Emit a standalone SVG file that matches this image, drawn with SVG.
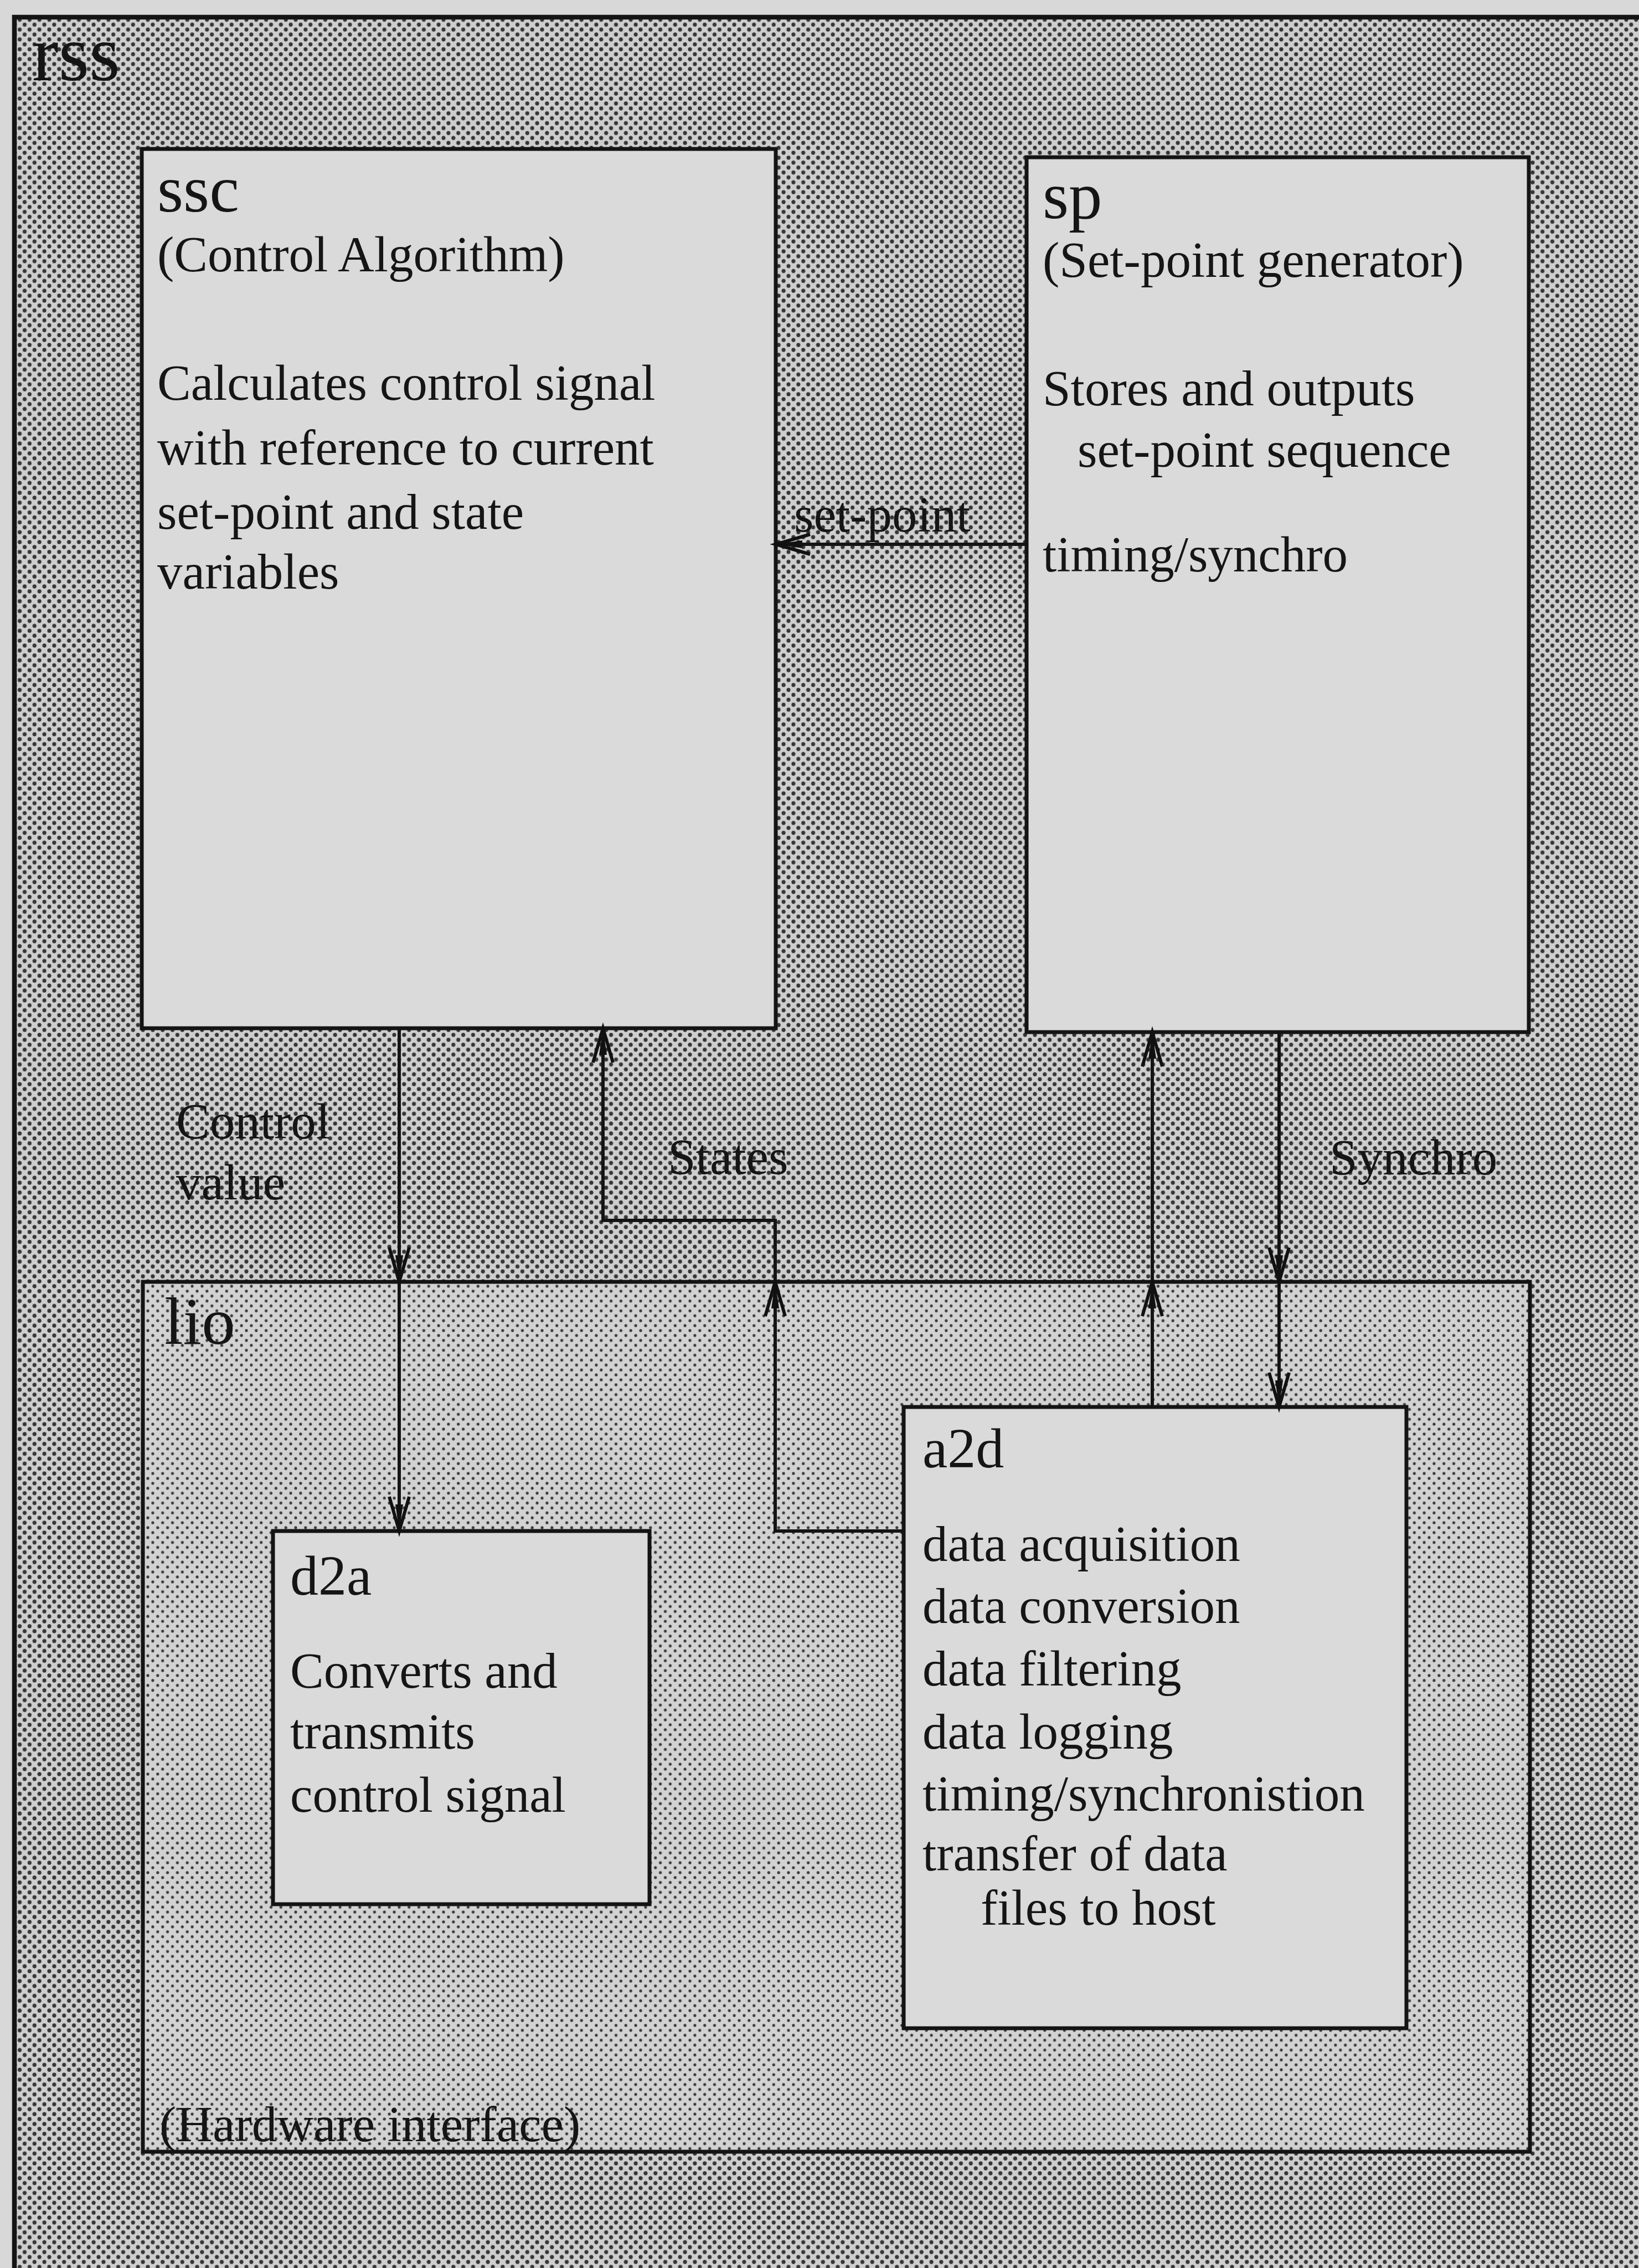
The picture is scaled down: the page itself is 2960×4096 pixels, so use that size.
<svg xmlns="http://www.w3.org/2000/svg" width="2960" height="4096" viewBox="0 0 2960 4096">
  <defs>
    <!-- halftone screens: dark for the rss system, lighter for the lio sub-system -->
    <pattern id="screenDark" width="17.8" height="17.8" patternUnits="userSpaceOnUse">
      <rect width="17.8" height="17.8" fill="#cecece"/>
      <circle cx="0" cy="0" r="3.6" fill="#353535"/>
      <circle cx="17.8" cy="0" r="3.6" fill="#353535"/>
      <circle cx="0" cy="17.8" r="3.6" fill="#353535"/>
      <circle cx="17.8" cy="17.8" r="3.6" fill="#353535"/>
      <circle cx="8.9" cy="8.9" r="3.6" fill="#353535"/>
    </pattern>
    <pattern id="screenLight" width="17.8" height="17.8" patternUnits="userSpaceOnUse">
      <rect width="17.8" height="17.8" fill="#d2d2d2"/>
      <circle cx="0" cy="0" r="2.6" fill="#3a3a3a"/>
      <circle cx="17.8" cy="0" r="2.6" fill="#3a3a3a"/>
      <circle cx="0" cy="17.8" r="2.6" fill="#3a3a3a"/>
      <circle cx="17.8" cy="17.8" r="2.6" fill="#3a3a3a"/>
      <circle cx="8.9" cy="8.9" r="2.6" fill="#3a3a3a"/>
    </pattern>
    <!-- arrowhead pointing up, tip at the origin -->
    <g id="head">
      <path d="M0 0 L-7 48 L7 48 Z" fill="#111"/>
      <path d="M-18 62 L0 0 L18 62" fill="none" stroke="#111" stroke-width="6" stroke-linejoin="miter"/>
    </g>
  </defs>
  <style>
    text { font-family: "Liberation Serif", "Times New Roman", serif; fill: #151515; }
    .title { font-size: 121px; }
    .sys { font-size: 143px; }
    .sub { font-size: 102px; }
    .body { font-size: 91px; }
    .box { fill: #dadada; stroke: #141414; stroke-width: 7; }
    .wire { fill: none; stroke: #141414; stroke-width: 6; }
  </style>

  <rect width="2960" height="4096" fill="#d8d8d8"/>

  <g id="rss">
    <rect x="26" y="31" width="3000" height="4120" fill="url(#screenDark)" stroke="#141414" stroke-width="8.5"/>
    <text class="sys" x="58" y="145">rss</text>
  </g>

  <g id="lio">
    <rect x="258" y="2315" width="2505" height="1571" fill="url(#screenLight)" stroke="#141414" stroke-width="7"/>
    <text class="title" x="297" y="2427">lio</text>
    <text class="body" x="288" y="3867">(Hardware interface)</text>
  </g>

  <g id="ssc">
    <rect class="box" x="256" y="269" width="1145" height="1588"/>
    <text class="title" x="284" y="382">ssc</text>
    <text class="body" x="284" y="490">(Control Algorithm)</text>
    <text class="body" x="284" y="722">Calculates control signal</text>
    <text class="body" x="284" y="839">with reference to current</text>
    <text class="body" x="284" y="955">set-point and state</text>
    <text class="body" x="284" y="1063">variables</text>
  </g>

  <g id="sp">
    <rect class="box" x="1854" y="284" width="907" height="1580"/>
    <text class="title" x="1883" y="394">sp</text>
    <text class="body" x="1883" y="500">(Set-point generator)</text>
    <text class="body" x="1883" y="732">Stores and outputs</text>
    <text class="body" x="1946" y="843">set-point sequence</text>
    <text class="body" x="1883" y="1032">timing/synchro</text>
  </g>

  <g id="d2a">
    <rect class="box" x="493" y="2765" width="680" height="674"/>
    <text class="sub" x="524" y="2880">d2a</text>
    <text class="body" x="524" y="3048">Converts and</text>
    <text class="body" x="524" y="3158">transmits</text>
    <text class="body" x="524" y="3272">control signal</text>
  </g>

  <g id="a2d">
    <rect class="box" x="1632" y="2541" width="908" height="1122"/>
    <text class="sub" x="1666" y="2650">a2d</text>
    <text class="body" x="1666" y="2819">data acquisition</text>
    <text class="body" x="1666" y="2931">data conversion</text>
    <text class="body" x="1666" y="3044">data filtering</text>
    <text class="body" x="1666" y="3158">data logging</text>
    <text class="body" x="1666" y="3270">timing/synchronistion</text>
    <text class="body" x="1666" y="3378">transfer of data</text>
    <text class="body" x="1771" y="3476">files to host</text>
  </g>

  <g id="connectors">
    <!-- set-point: sp -> ssc -->
    <path class="wire" d="M1854 983 H1401"/>
    <use href="#head" transform="translate(1401 983) rotate(-90)"/>
    <text class="body" x="1434" y="960">set-point</text>

    <!-- control value: ssc -> d2a -->
    <path class="wire" d="M721 1857 V2765"/>
    <use href="#head" transform="translate(721 2315) rotate(180)"/>
    <use href="#head" transform="translate(721 2765) rotate(180)"/>
    <text class="body" x="318" y="2056">Control</text>
    <text class="body" x="318" y="2166">value</text>

    <!-- states: a2d -> ssc -->
    <path class="wire" d="M1632 2765 H1400 V2204 H1089 V1857"/>
    <use href="#head" transform="translate(1400 2315)"/>
    <use href="#head" transform="translate(1089 1857)"/>
    <text class="body" x="1206" y="2120">States</text>

    <!-- a2d -> sp -->
    <path class="wire" d="M2081 2541 V1864"/>
    <use href="#head" transform="translate(2081 2315)"/>
    <use href="#head" transform="translate(2081 1864)"/>

    <!-- synchro: sp -> a2d -->
    <path class="wire" d="M2310 1864 V2541"/>
    <use href="#head" transform="translate(2310 2315) rotate(180)"/>
    <use href="#head" transform="translate(2310 2541) rotate(180)"/>
    <text class="body" x="2401" y="2121">Synchro</text>
  </g>
</svg>
